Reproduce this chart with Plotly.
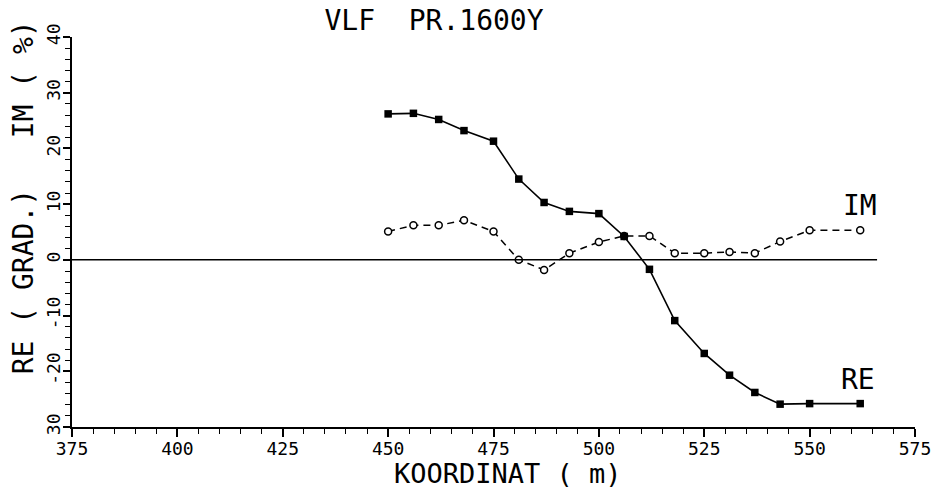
import plotly.graph_objects as go

# Station coordinates (m) along profile PR.1600Y
koordinat = [450, 456, 462, 468, 475, 481, 487, 493, 500, 506, 512, 518,
             525, 531, 537, 543, 550, 562]

# Real component (degrees) and imaginary component (%)
re_vals = [26.2, 26.3, 25.2, 23.2, 21.3, 14.5, 10.3, 8.7, 8.3, 4.2, -1.7,
           -10.9, -16.8, -20.7, -23.8, -25.9, -25.8, -25.8]
im_vals = [5.1, 6.2, 6.2, 7.1, 5.1, 0.0, -1.8, 1.2, 3.2, 4.3, 4.3, 1.2,
           1.2, 1.4, 1.2, 3.3, 5.3, 5.3]

# Axis ticks
x_ticks = [375, 400, 425, 450, 475, 500, 525, 550, 575]
y_ticks = [-30, -20, -10, 0, 10, 20, 30, 40]
y_tick_text = ["30", "-20", "-10", "0", "10", "20", "30", "40"]

zero_line_end = 566

FONT = "DejaVu Sans Mono, monospace"

# the page adds an 8px body margin, so the figure is a bit smaller than the window
W, H = 933, 481
PLOT_W, PLOT_H = 843, 390
L, T = 64, 29

fig = go.Figure()

# IM curve: dashed line with open circles
fig.add_trace(go.Scatter(
    x=koordinat, y=im_vals, mode="lines+markers",
    line=dict(color="black", width=1.5, dash="7px,5px"),
    marker=dict(symbol="circle", size=7, color="white",
                line=dict(color="black", width=1.5)),
    name="IM"
))

# RE curve: solid line with filled squares
fig.add_trace(go.Scatter(
    x=koordinat, y=re_vals, mode="lines+markers",
    line=dict(color="black", width=1.6),
    marker=dict(symbol="square", size=7.5, color="black"),
    name="RE"
))

# horizontal zero reference line
fig.add_shape(type="line", x0=x_ticks[0], x1=zero_line_end, y0=0, y1=0,
              line=dict(color="black", width=1.5))

# curve labels
fig.add_annotation(x=562, y=9.8, text="IM", showarrow=False,
                   font=dict(family=FONT, size=28, color="black"))
fig.add_annotation(x=561.5, y=-21.4, text="RE", showarrow=False,
                   font=dict(family=FONT, size=28, color="black"))

# axis titles as annotations (paper coords relative to plot area)
fig.add_annotation(xref="paper", yref="paper", x=(508 - 72) / PLOT_W, y=(426.7 - 473) / PLOT_H,
                   text="KOORDINAT ( m)", showarrow=False, xanchor="center", yanchor="middle",
                   font=dict(family=FONT, size=27, color="black"))
fig.add_annotation(xref="paper", yref="paper", x=(23 - 72) / PLOT_W, y=(426.7 - 197) / PLOT_H,
                   text="RE ( GRAD.)   IM ( %)", textangle=-90, showarrow=False,
                   xanchor="center", yanchor="middle",
                   font=dict(family=FONT, size=28, color="black"))

fig.update_layout(
    width=W, height=H,
    margin=dict(l=L, r=W - L - PLOT_W, t=T, b=H - T - PLOT_H),
    paper_bgcolor="white", plot_bgcolor="white",
    showlegend=False,
    title=dict(text="VLF  PR.1600Y", x=(434 - 8) / W, xanchor="center",
               y=1 - (20 - 8) / H, yanchor="middle",
               font=dict(family=FONT, size=28, color="black")),
    xaxis=dict(
        range=[375, 575], tickvals=x_ticks, automargin=False,
        showgrid=False, zeroline=False,
        showline=True, linecolor="black", linewidth=1.5,
        ticks="outside", ticklen=8, tickwidth=1.5, tickcolor="black",
        ticklabelstandoff=-3,
        minor=dict(dtick=5, ticks="outside", ticklen=5, tickwidth=1.3, tickcolor="black"),
        tickfont=dict(family=FONT, size=18, color="black"),
    ),
    yaxis=dict(
        range=[-30, 40], tickvals=y_ticks, ticktext=y_tick_text,
        tickangle=-90, automargin=False,
        showgrid=False, zeroline=False,
        showline=True, linecolor="black", linewidth=1.5,
        ticks="outside", ticklen=7, tickwidth=1.5, tickcolor="black",
        ticklabelstandoff=-4,
        minor=dict(dtick=2, ticks="outside", ticklen=5, tickwidth=1.3, tickcolor="black"),
        tickfont=dict(family=FONT, size=18, color="black"),
    ),
)

fig.write_html("out.html")
